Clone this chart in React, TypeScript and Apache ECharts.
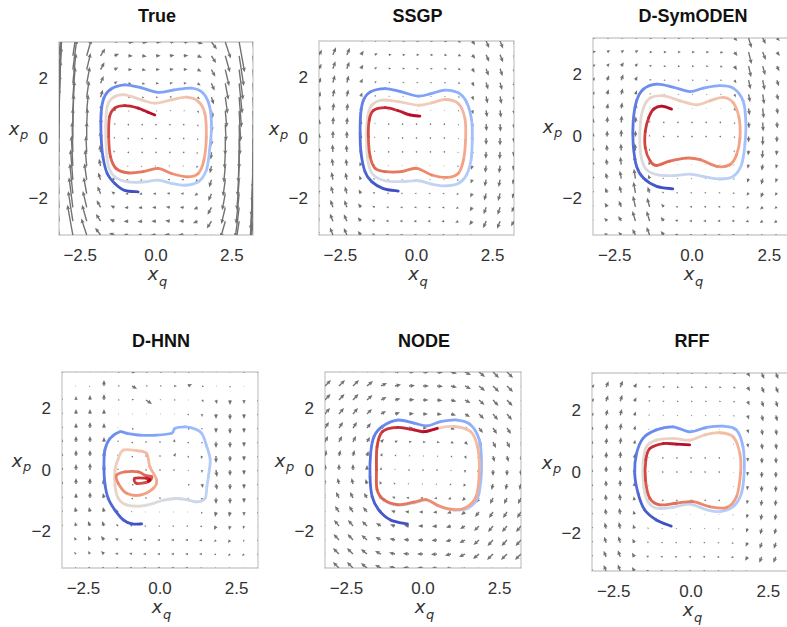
import React, { useEffect, useRef } from "react";
import * as echarts from "echarts";

// ---------- data ----------
const QUIVER_GRID = [-3.2, -2.743, -2.286, -1.829, -1.371, -0.914, -0.457, 0, 0.457, 0.914, 1.371, 1.829, 2.286, 2.743, 3.2];
const X_TICKS = [-2.5, 0, 2.5];
const Y_TICKS = [-2, 0, 2];
const TITLES = ["True", "SSGP", "D-SymODEN", "D-HNN", "NODE", "RFF"];

// True field: horizontal component per row (top->bottom), vertical per column (left->right)
const TRUE_U_ROW = [3.2, 2.74, 2.29, 1.83, 1.37, 0.91, 0.46, 0, -0.46, -0.91, -1.37, -1.83, -2.29, -2.74, -3.2];
const TRUE_V_COL = [29.6, 17.8, 9.7, 4.3, 1.2, -0.16, -0.36, 0, 0.36, 0.16, -1.2, -4.3, -9.7, -17.8, -29.6];

const SSGP_U_ROW = [3, 3, 2.5, 2, 1.5, 1, 0.5, 0, -0.5, -1, -1.5, -2, -2.5, -3, -3];
const SSGP_V_COL = [5, 7.5, 7, 4, 1.5, 0.4, 0.1, 0, -0.1, -0.4, -1.5, -4, -7, -7.5, -5];

const DSYM_U_ROW = [3, 3, 2.5, 2, 1.5, 1, 0.5, 0, -0.5, -1, -1.5, -2, -2.5, -3, -3];
const DSYM_V = [
  [1, 1, 1, 1, 0, 0, 0, 0, 0, 0, -3, -10, -6, -3, -1],
  [1, 2, 2, 2, 0, 0, 0, 0, 0, -1, -4, -12, -8, -4, -2],
  [2, 3, 4, 3, 1, 0, 0, 0, 0, -1, -4, -11, -9, -5, -2],
  [3, 5, 6, 4, 1, 0, 0, 0, 0, 0, -3, -9, -10, -6, -3],
  [3, 5, 6, 4, 1, 0, 0, 0, 0, 0, -3, -8, -10, -6, -3],
  [3, 5, 6, 5, 1, 0, 0, 0, 0, 0, -3, -7, -10, -6, -3],
  [4, 6, 7, 6, 2, 0, 0, 0, 0, 0, -2, -6, -9, -6, -3],
  [4, 6, 7, 6, 2, 0, 0, 0, 0, 0, -2, -6, -9, -6, -3],
  [4, 6, 7, 7, 2, 0, 0, 0, 0, 0, -2, -5, -8, -5, -3],
  [4, 6, 8, 9, 3, 1, 0, 0, 0, 0, -1, -4, -6, -4, -2],
  [4, 6, 8, 10, 4, 1, 0, 0, 0, 0, -1, -4, -6, -4, -2],
  [3, 5, 7, 11, 6, 1, 0, 0, 0, 0, -1, -3, -5, -3, -2],
  [2, 4, 6, 11, 9, 3, 0, 0, 0, 0, 0, -2, -3, -2, -1],
  [2, 3, 5, 10, 10, 4, 1, 0, 0, 0, 0, -1, -2, -2, -1],
  [1, 2, 3, 6, 8, 4, 1, 0, 0, 0, 0, -1, -1, -1, 0],
];

const DHNN_U = [
  [0, 1, 1, 1, 2, 3, 2, 2, 2, 2, 1, 1, 0, 0, 0],
  [0, -1, -1, 0, 2, 5, 2, 2, 3, 4, 2, 1, 0, 0, 0],
  [0, 0, 0, 0, 2, 2, 6, 1, 2, 1, 2, 1, 0, 0, 0],
  [0, 0, 0, 0, 1, 1, 1, 1, 1, 0, 0, 0, 0, 0, 0],
  [0, 0, 0, 0, 0, 0, 0, 0, 0, 0, 0, 0, 0, 0, 0],
  [0, 0, 0, 0, 0, 0, 0, 0, 1, 0, 0, 0, 0, 0, 0],
  [0, 0, 0, 0, 0, 0, 0, 0, 2, 1, -1, 0, 0, 0, 0],
  [0, 0, 0, 0, 0, 0, 0, 0, 0, 1, 0, 1, 0, 0, 0],
  [0, 0, 0, -1, 0, 0, 0, 0, 0, 0, 1, 1, 0, 0, 0],
  [0, 0, 0, -1, 0, 0, 0, 0, 0, 0, 0, 0, 0, 0, 0],
  [0, -1, -1, -1, -1, -1, -1, -1, -1, -1, -1, -1, -1, 0, 0],
  [0, -1, -2, -2, -2, -2, -2, -2, -2, -2, -2, -2, -1, -1, 0],
  [-1, -2, -2, -3, -3, -3, -3, -3, -3, -3, -3, -2, -2, -1, -1],
  [-1, -2, -2, -3, -3, -3, -3, -3, -3, -3, -3, -2, -2, -2, -1],
  [-1, -1, -2, -2, -2, -3, -3, -3, -3, -3, -2, -2, -2, -1, -1],
];
const DHNN_V = [
  [0, 0, 0, 1, 0, -1, 0, 0, 0, 0, 0, 0, -1, 0, 0],
  [0, 0, -1, 6, 0, -3, 0, 0, 0, 2, -1, 0, -2, -1, 0],
  [2, 4, 5, 6, 0, 1, -4, 1, 0, 0, -2, -4, -5, -4, -2],
  [2, 5, 5, 5, 0, 0, 0, 0, 0, 0, -3, -5, -6, -5, -2],
  [2, 5, 6, 5, 1, 0, 0, 0, 0, 0, -2, -5, -6, -5, -2],
  [3, 6, 6, 5, 2, 0, 0, 0, 3, 0, -2, -6, -6, -5, -2],
  [3, 6, 6, 5, 2, 0, 0, 0, 3, -2, -3, -7, -6, -5, -2],
  [3, 6, 7, 5, 2, 0, 0, 0, 0, -1, -3, -7, -6, -5, -2],
  [3, 6, 6, 5, 3, 0, 0, 0, 0, 0, -4, -6, -6, -5, -2],
  [2, 5, 6, 5, 2, 0, 0, 0, 0, 0, -3, -6, -6, -5, -2],
  [2, 5, 5, 5, 2, 1, 0, 0, 0, 0, -2, -5, -5, -4, -2],
  [2, 4, 5, 5, 2, 1, 0, 0, 0, 0, -1, -4, -4, -3, -1],
  [1, 3, 4, 4, 2, 1, 0, 0, 0, 0, -1, -2, -3, -2, -1],
  [1, 2, 3, 3, 1, 1, 0, 0, 0, 0, 0, -1, -2, -2, -1],
  [0, 1, 1, 1, 1, 0, 0, 0, 0, 0, 0, -1, -1, -1, 0],
];

const NODE_U_ROW = [6, 6, 5.5, 5, 4, 3, 1.5, 0, -1.5, -3, -4, -5, -5.5, -6, -6];
const NODE_V_COL = [6, 6, 6, 5, 3, 1.5, 0.5, 0, -0.5, -1.5, -3, -5, -6, -6, -6];

const RFF_U_ROW = [2.5, 2.5, 2, 1.5, 1, 0.7, 0.3, 0, -0.3, -0.7, -1, -1.5, -2, -2.5, -2.5];
const RFF_V_COL = [3, 6, 6.5, 4, 1, 0.3, 0, 0, 0, -0.3, -1, -4, -6, -6, -4];

const TRAJ_TRUE = [[-0.59,-1.77],[-1.03,-1.72],[-1.36,-1.49],[-1.61,-1.16],[-1.75,-0.61],[-1.81,0.06],[-1.81,0.84],[-1.72,1.34],[-1.48,1.64],[-1.03,1.78],[-0.48,1.68],[0.07,1.53],[0.6,1.61],[1.17,1.67],[1.55,1.51],[1.77,1.06],[1.83,0.39],[1.77,-0.38],[1.66,-1.05],[1.39,-1.44],[0.95,-1.55],[0.51,-1.49],[0.07,-1.38],[-0.37,-1.44],[-0.92,-1.44],[-1.36,-1.27],[-1.56,-0.94],[-1.64,-0.38],[-1.66,0.4],[-1.61,1.06],[-1.43,1.35],[-1.03,1.45],[-0.48,1.28],[-0.04,1.17],[0.51,1.28],[1.0,1.37],[1.39,1.23],[1.61,0.84],[1.66,0.06],[1.58,-0.72],[1.39,-1.16],[1.05,-1.27],[0.51,-1.16],[0.07,-0.99],[-0.43,-1.1],[-0.92,-1.14],[-1.31,-1.0],[-1.5,-0.61],[-1.56,0.06],[-1.53,0.73],[-1.36,1.01],[-1.03,1.09],[-0.59,1.01],[-0.26,0.87],[-0.04,0.78]];
const TRAJ_SSGP = [[-0.6,-1.75],[-1.09,-1.67],[-1.47,-1.44],[-1.69,-1.11],[-1.82,-0.5],[-1.85,0.15],[-1.83,0.81],[-1.74,1.25],[-1.52,1.52],[-1.03,1.63],[-0.49,1.52],[0.06,1.38],[0.5,1.47],[0.93,1.58],[1.37,1.49],[1.64,1.19],[1.81,0.59],[1.83,-0.07],[1.79,-0.73],[1.64,-1.22],[1.37,-1.5],[0.93,-1.58],[0.5,-1.52],[0.06,-1.41],[-0.49,-1.44],[-1.03,-1.41],[-1.41,-1.22],[-1.58,-0.84],[-1.64,-0.07],[-1.6,0.7],[-1.47,1.08],[-1.14,1.25],[-0.6,1.2],[0.06,1.08],[0.5,1.16],[0.93,1.27],[1.37,1.14],[1.59,0.64],[1.61,-0.07],[1.54,-0.73],[1.37,-1.17],[0.99,-1.3],[0.5,-1.22],[0.0,-1.0],[-0.49,-1.11],[-1.03,-1.11],[-1.36,-1.0],[-1.52,-0.62],[-1.58,0.04],[-1.55,0.59],[-1.42,0.9],[-1.03,1.0],[-0.6,0.9],[-0.22,0.76],[0.11,0.72]];
const TRAJ_DSYM = [[-0.62,-1.7],[-1.14,-1.62],[-1.57,-1.35],[-1.79,-0.97],[-1.9,-0.26],[-1.9,0.5],[-1.79,1.16],[-1.57,1.54],[-1.14,1.7],[-0.6,1.6],[-0.06,1.46],[0.37,1.57],[0.9,1.65],[1.33,1.57],[1.65,1.16],[1.74,0.5],[1.71,-0.26],[1.6,-0.92],[1.33,-1.3],[0.9,-1.38],[0.37,-1.3],[-0.06,-1.22],[-0.6,-1.27],[-1.14,-1.24],[-1.51,-1.03],[-1.67,-0.48],[-1.67,0.39],[-1.57,0.93],[-1.35,1.25],[-0.92,1.32],[-0.39,1.16],[0.15,1.03],[0.58,1.16],[1.01,1.27],[1.33,1.1],[1.52,0.61],[1.55,-0.05],[1.44,-0.59],[1.22,-0.92],[0.8,-0.97],[0.26,-0.75],[-0.18,-0.7],[-0.72,-0.8],[-1.14,-0.94],[-1.35,-0.8],[-1.51,-0.37],[-1.51,0.17],[-1.4,0.61],[-1.24,0.89],[-0.98,0.99],[-0.66,0.89]];
const TRAJ_DHNN = [[-0.6,-1.76],[-0.92,-1.76],[-1.2,-1.63],[-1.47,-1.31],[-1.69,-0.93],[-1.8,-0.44],[-1.83,0.11],[-1.8,0.65],[-1.63,1.03],[-1.31,1.25],[-1.09,1.2],[-0.65,1.14],[-0.11,1.14],[0.38,1.2],[0.49,1.36],[0.82,1.41],[1.09,1.36],[1.36,1.2],[1.53,0.76],[1.64,0.33],[1.58,-0.22],[1.53,-0.55],[1.47,-0.93],[1.2,-1.04],[0.93,-0.98],[0.55,-0.93],[0.11,-0.98],[-0.22,-1.09],[-0.65,-1.18],[-1.09,-1.14],[-1.36,-0.93],[-1.47,-0.5],[-1.47,0.0],[-1.36,0.38],[-1.2,0.65],[-0.76,0.63],[-0.44,0.54],[-0.33,0.11],[-0.11,-0.33],[-0.22,-0.6],[-0.65,-0.82],[-1.09,-0.76],[-1.36,-0.44],[-1.42,-0.17],[-1.14,-0.06],[-0.71,-0.06],[-0.49,-0.17],[-0.27,-0.22],[-0.38,-0.38],[-0.76,-0.44],[-0.82,-0.27],[-0.44,-0.27],[-0.33,-0.3],[-0.38,-0.36],[-0.33,-0.33]];
const TRAJ_NODE = [[-0.51,-1.76],[-1.06,-1.63],[-1.44,-1.31],[-1.66,-0.87],[-1.73,-0.22],[-1.71,0.54],[-1.6,1.09],[-1.33,1.42],[-0.84,1.63],[-0.29,1.53],[0.14,1.44],[0.58,1.58],[1.13,1.63],[1.56,1.47],[1.84,0.98],[1.91,0.33],[1.89,-0.33],[1.78,-0.93],[1.46,-1.25],[1.02,-1.31],[0.58,-1.2],[0.14,-0.98],[-0.29,-1.07],[-0.84,-1.15],[-1.28,-0.98],[-1.5,-0.65],[-1.52,0.0],[-1.5,0.76],[-1.33,1.25],[-0.84,1.39],[-0.29,1.31],[0.04,1.25],[0.47,1.36],[1.02,1.42],[1.56,1.25],[1.78,0.76],[1.84,0.0],[1.73,-0.87],[1.35,-1.25],[0.9,-1.28],[0.47,-1.15],[0.1,-0.97],[-0.3,-1.05],[-0.84,-1.13],[-1.28,-0.97],[-1.5,-0.64],[-1.52,0.0],[-1.5,0.76],[-1.33,1.25],[-0.84,1.39],[-0.29,1.31],[0.04,1.25],[0.47,1.36]];
const TRAJ_RFF = [[-0.64,-1.75],[-1.12,-1.55],[-1.5,-1.22],[-1.71,-0.69],[-1.82,-0.04],[-1.76,0.6],[-1.55,1.09],[-1.12,1.36],[-0.58,1.46],[-0.04,1.3],[0.5,1.44],[1.04,1.48],[1.47,1.36],[1.68,0.82],[1.72,0.06],[1.63,-0.69],[1.36,-1.12],[0.93,-1.28],[0.5,-1.22],[-0.04,-1.04],[-0.58,-1.14],[-1.12,-1.17],[-1.39,-0.96],[-1.53,-0.48],[-1.55,0.28],[-1.44,0.82],[-1.12,1.03],[-0.58,1.09],[-0.04,1.03],[0.45,1.2],[0.93,1.27],[1.36,1.14],[1.58,0.6],[1.6,-0.04],[1.47,-0.8],[1.14,-1.15],[0.6,-1.12],[0.06,-0.96],[-0.48,-1.01],[-1.02,-1.06],[-1.33,-0.85],[-1.47,-0.26],[-1.46,0.39],[-1.33,0.76],[-0.9,0.92],[-0.47,0.9],[-0.04,0.88]];

// ---------- layout / style ----------
const PANELS = [
  { box: [59, 42, 194, 193], uRow: TRUE_U_ROW, vCol: TRUE_V_COL, scale: 1.7, traj: TRAJ_TRUE },
  { box: [319, 41, 195, 194], uRow: SSGP_U_ROW, vCol: SSGP_V_COL, scale: 1, traj: TRAJ_SSGP },
  { box: [593, 38, 198, 197], uRow: DSYM_U_ROW, V: DSYM_V, scale: 1, traj: TRAJ_DSYM },
  { box: [62, 372, 196, 196], U: DHNN_U, V: DHNN_V, scale: 1, traj: TRAJ_DHNN },
  { box: [325, 372, 196, 196], uRow: NODE_U_ROW, vCol: NODE_V_COL, scale: 1, traj: TRAJ_NODE },
  { box: [592, 373, 198, 198], uRow: RFF_U_ROW, vCol: RFF_V_COL, scale: 1, traj: TRAJ_RFF },
];
const AX_MIN = -3.2, AX_MAX = 3.2;
const ARROW_COLOR = "#727272";
const TICK_FONT = "'Liberation Sans', Arial, Helvetica, sans-serif";
const MATH_FONT = "'DejaVu Sans', sans-serif";

const CW = [[59,76,192],[98,130,234],[141,176,254],[185,208,249],[221,220,220],[242,203,183],[244,154,123],[220,93,74],[180,4,38]];
function coolwarm(t: number) {
  const x = Math.max(0, Math.min(1, t)) * 8;
  const i = Math.min(7, Math.floor(x));
  const f = x - i;
  const a = CW[i], b = CW[i + 1];
  const c = [0, 1, 2].map((k) => Math.round(a[k] + (b[k] - a[k]) * f));
  return `rgb(${c[0]},${c[1]},${c[2]})`;
}

function quiverData(pn: any) {
  const out: number[][] = [];
  const n = QUIVER_GRID.length;
  for (let j = 0; j < n; j++) {
    const p = QUIVER_GRID[n - 1 - j];
    for (let i = 0; i < n; i++) {
      const q = QUIVER_GRID[i];
      const u = pn.U ? pn.U[j][i] : pn.uRow[j];
      const v = pn.V ? pn.V[j][i] : pn.vCol[i];
      out.push([q, p, u, v]);
    }
  }
  return out;
}

// each item: start, end, previous, next point + colour position
function trajData(traj: number[][]) {
  const out: number[][] = [];
  const m = traj.length - 1;
  for (let k = 0; k < m; k++) {
    const a = traj[Math.max(0, k - 1)], b = traj[k], c = traj[k + 1], d = traj[Math.min(m, k + 2)];
    out.push([b[0], b[1], c[0], c[1], a[0], a[1], d[0], d[1], (k + 0.5) / m]);
  }
  return out;
}

function makeQuiverRender(scale: number) {
  return (params: any, api: any) => {
    const pt = api.coord([api.value(0), api.value(1)]);
    const dx = api.value(2) * scale;
    const dy = -api.value(3) * scale;
    const L = Math.hypot(dx, dy);
    if (L < 1) {
      return { type: "circle", shape: { cx: pt[0], cy: pt[1], r: 0.75 }, style: { fill: ARROW_COLOR } };
    }
    const ux = dx / L, uy = dy / L, nx = -uy, ny = ux;
    const HL = 4.8;
    const k = Math.min(1, L / HL);
    const sw = 0.7 * k, hw = 2.1 * k, hl = HL * k, hal = hl * 0.85;
    const tx = pt[0] + dx, ty = pt[1] + dy;
    const bx = tx - ux * hal, by = ty - uy * hal;
    const hx = tx - ux * hl, hy = ty - uy * hl;
    return {
      type: "polygon",
      shape: {
        points: [
          [pt[0] + nx * sw, pt[1] + ny * sw],
          [bx + nx * sw, by + ny * sw],
          [hx + nx * hw, hy + ny * hw],
          [tx, ty],
          [hx - nx * hw, hy - ny * hw],
          [bx - nx * sw, by - ny * sw],
          [pt[0] - nx * sw, pt[1] - ny * sw],
        ],
      },
      style: { fill: ARROW_COLOR },
    };
  };
}

function trajRender(params: any, api: any) {
  const p1 = api.coord([api.value(0), api.value(1)]);
  const p2 = api.coord([api.value(2), api.value(3)]);
  const p0 = api.coord([api.value(4), api.value(5)]);
  const p3 = api.coord([api.value(6), api.value(7)]);
  // Catmull-Rom tangents turned into cubic Bezier handles (drawing only)
  const c1x = p1[0] + (p2[0] - p0[0]) / 6, c1y = p1[1] + (p2[1] - p0[1]) / 6;
  const c2x = p2[0] - (p3[0] - p1[0]) / 6, c2y = p2[1] - (p3[1] - p1[1]) / 6;
  return {
    type: "bezierCurve",
    shape: { x1: p1[0], y1: p1[1], x2: p2[0], y2: p2[1], cpx1: c1x, cpy1: c1y, cpx2: c2x, cpy2: c2y },
    style: { stroke: coolwarm(api.value(8)), lineWidth: 2.8, lineCap: "round", fill: null },
  };
}

function fmt(v: number, digits: number) {
  const s = (Math.abs(v) < 1e-9 ? 0 : v).toFixed(digits);
  return s.replace("-", "\u2212");
}

export default function App() {
  const ref = useRef<HTMLDivElement>(null);
  useEffect(() => {
    if (!ref.current) return;
    const chart = echarts.init(ref.current, undefined, { renderer: "svg" });

    const grid = PANELS.map((pn) => ({
      left: pn.box[0], top: pn.box[1], width: pn.box[2], height: pn.box[3],
      show: true, borderColor: "#cdcdcd", borderWidth: 1.4, backgroundColor: "#ffffff",
      containLabel: false, outerBoundsMode: "none",
    }));
    const axisCommon = {
      type: "value", min: AX_MIN, max: AX_MAX,
      axisLine: { show: false }, axisTick: { show: false }, splitLine: { show: false },
    };
    const xAxis = PANELS.map((_, k) => ({
      ...axisCommon, gridIndex: k,
      axisLabel: { customValues: X_TICKS, formatter: (v: number) => fmt(v, 1), fontSize: 17, lineHeight: 16, color: "#333", fontFamily: TICK_FONT, margin: 12 },
    }));
    const yAxis = PANELS.map((_, k) => ({
      ...axisCommon, gridIndex: k,
      axisLabel: { customValues: Y_TICKS, formatter: (v: number) => fmt(v, 0), fontSize: 17, lineHeight: 16, color: "#333", fontFamily: TICK_FONT, margin: 11 },
    }));

    const series: any[] = [];
    PANELS.forEach((pn, k) => {
      series.push({
        type: "custom", xAxisIndex: k, yAxisIndex: k, clip: true, silent: true, z: 2,
        renderItem: makeQuiverRender(pn.scale), data: quiverData(pn),
      });
      series.push({
        type: "custom", xAxisIndex: k, yAxisIndex: k, clip: true, silent: true, z: 3,
        renderItem: trajRender, data: trajData(pn.traj),
      });
    });

    const graphic: any[] = [];
    const mathText = (x: number, y: number, text: string, size: number) => ({
      type: "text", x, y,
      style: { text, align: "center", verticalAlign: "middle", fontSize: size, lineHeight: size * 0.7, fontStyle: "italic", fontFamily: MATH_FONT, fill: "#333" },
    });
    PANELS.forEach((pn, k) => {
      const [l, t, w, h] = pn.box;
      const cx = l + w / 2;
      const cy = t + h / 2;
      const bottom = t + h;
      const titleY = k < 3 ? 16 : 341;
      graphic.push({
        type: "text", x: cx + 1, y: titleY,
        style: { text: TITLES[k], align: "center", verticalAlign: "middle", fontSize: 18, fontWeight: "bold", fontFamily: TICK_FONT, fill: "#111" },
      });
      graphic.push(mathText(cx - 3, bottom + 38, "x", 18));
      graphic.push(mathText(cx + 7, bottom + 46, "q", 13));
      graphic.push(mathText(l - 45, cy - 10, "x", 18));
      graphic.push(mathText(l - 35, cy - 4, "p", 13));
    });

    chart.setOption({
      animation: false,
      backgroundColor: "#ffffff",
      grid, xAxis, yAxis, series, graphic,
    });
    return () => chart.dispose();
  }, []);
  return <div ref={ref} style={{ position: "fixed", left: 0, top: 0, width: 787, height: 627, background: "#fff" }} />;
}
